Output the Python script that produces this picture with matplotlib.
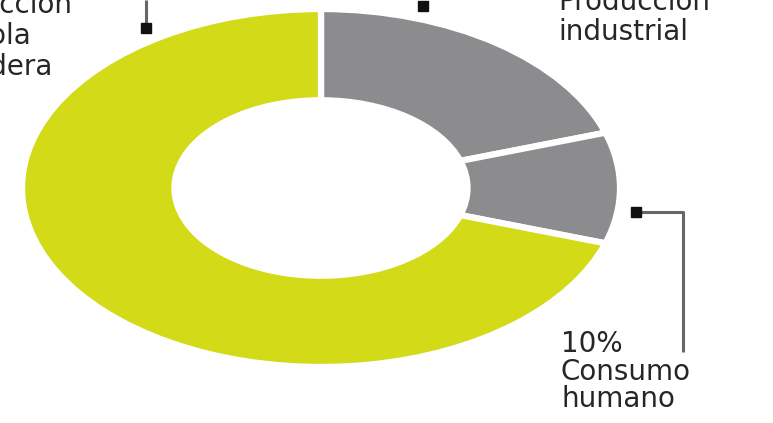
import matplotlib
matplotlib.use("Agg")
import matplotlib.pyplot as plt

# water use shares (percent)
labels = ["Producción industrial", "Consumo humano", "Producción agrícola ganadera"]
shares = [20, 10, 70]
colors = ["#8c8c8e", "#8c8c8e", "#d3db18"]

W, H = 773, 423
fig = plt.figure(figsize=(W / 100, H / 100), dpi=100)
ax = fig.add_axes([0, 0, 1, 1])

ax.pie(shares, colors=colors, startangle=90, counterclock=False, radius=1.0,
       wedgeprops=dict(width=0.51, edgecolor="white", linewidth=4.5))

# stretched donut: centre at (321, 188) px, radii 299 px across, 179 px down
cx, cy, rx, ry = 321, 188, 299, 179
ax.set_aspect("auto")
ax.set_xlim(-cx / rx, (W - cx) / rx)
ax.set_ylim(-(H - cy) / ry, cy / ry)
ax.axis("off")


def px(x, y):
    return x / W, 1 - y / H


txt = dict(fontsize=20, color="#262626", family="DejaVu Sans", va="baseline", ha="left")
line = dict(color="#666666", lw=2.2, solid_capstyle="butt")
sq = dict(marker="s", color="#111111", markersize=6.5, linestyle="none")

# left label: agricultural/livestock production (runs off the left edge)
for i, s in enumerate(["Producción", "agrícola", "ganadera"]):
    fig.text(*px(-80, 13 + 31 * i), s, **txt)
fig.add_artist(plt.Line2D(*zip(px(146, 0), px(146, 26)), **line))
fig.add_artist(plt.Line2D(*zip(px(146, 28)), **sq))

# top-right label: industrial production
for i, s in enumerate(["Producción", "industrial"]):
    fig.text(*px(558, 10 + 30 * i), s, **txt)
fig.add_artist(plt.Line2D(*zip(px(423, 6)), **sq))

# bottom-right label: human consumption
for i, s in enumerate(["%d%%" % shares[1], "Consumo", "humano"]):
    fig.text(*px(561, 352 + 27.5 * i), s, **txt)
fig.add_artist(plt.Line2D(*zip(px(638, 212), px(683, 212), px(683, 352)), **line))
fig.add_artist(plt.Line2D(*zip(px(636, 212)), **sq))

fig.savefig("out.png", dpi=100, facecolor="white")
